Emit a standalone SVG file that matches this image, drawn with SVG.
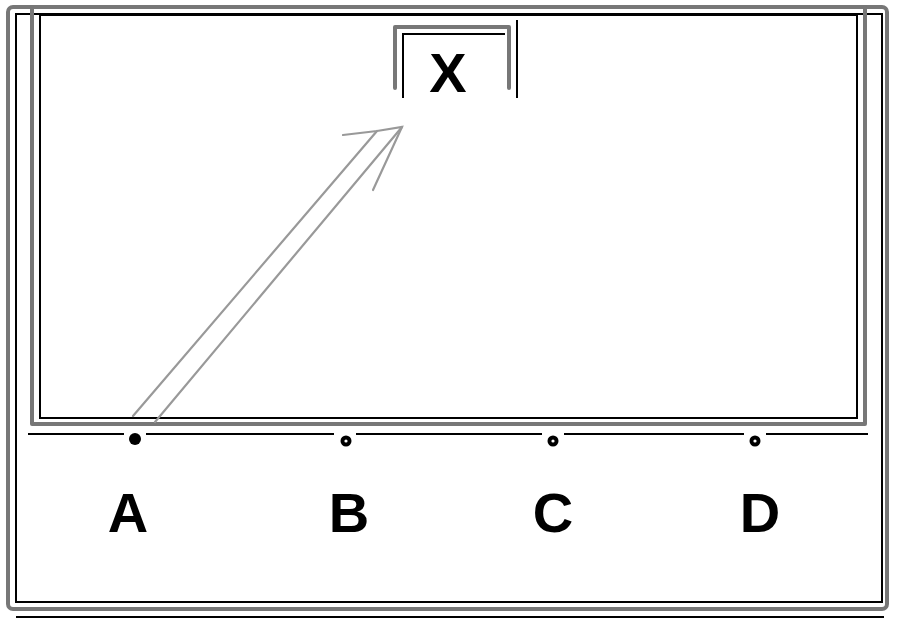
<svg xmlns="http://www.w3.org/2000/svg" width="900" height="620" viewBox="0 0 900 620">
  <style>
    .frame { fill: none; stroke: #777; stroke-width: 4; stroke-linejoin: round; stroke-linecap: round; }
    .thin { fill: none; stroke: #000; stroke-width: 2; }
    .conn { fill: none; stroke: #999; stroke-width: 2.2; stroke-linecap: round; }
    .label { font-family: "Liberation Sans", Arial, sans-serif; font-weight: bold; font-size: 56px; fill: #000; text-anchor: middle; }
    .ring { fill: #000; }
    .hole { fill: #fff; }
  </style>
  <rect width="900" height="620" fill="#fff"/>

  <g id="outer-frame">
    <rect class="frame" x="8" y="7" width="879" height="602" rx="5"/>
    <rect class="thin" x="16" y="14" width="866" height="588"/>
    <line class="thin" x1="16" y1="617" x2="884" y2="617"/>
  </g>

  <g id="panel">
    <path class="frame" d="M32,7 V424 H865 V7"/>
    <path class="thin" d="M40,418 V15 H857 V418 Z"/>
    <path class="thin" d="M28,434 H124 M146,434 H334 M356,434 H542 M564,434 H744 M766,434 H868"/>
  </g>

  <g id="node-X">
    <path class="frame" d="M395,88 V27 H509 V88"/>
    <path class="thin" d="M403,98 V34 H505"/>
    <line class="thin" x1="517" y1="20" x2="517" y2="98"/>
    <text class="label" x="448" y="92">X</text>
  </g>

  <g id="node-A">
    <circle class="ring" cx="135" cy="439" r="6"/>
    <text class="label" x="128" y="532">A</text>
  </g>
  <g id="node-B">
    <circle class="ring" cx="346" cy="441" r="5.5"/>
    <circle class="hole" cx="346" cy="441" r="1.6"/>
    <text class="label" x="349" y="532">B</text>
  </g>
  <g id="node-C">
    <circle class="ring" cx="553" cy="441" r="5.5"/>
    <circle class="hole" cx="553" cy="441" r="1.6"/>
    <text class="label" x="553" y="532">C</text>
  </g>
  <g id="node-D">
    <circle class="ring" cx="755" cy="441" r="5.5"/>
    <circle class="hole" cx="755" cy="441" r="1.6"/>
    <text class="label" x="760" y="532">D</text>
  </g>

  <g id="connectors">
    <line class="conn" x1="133" y1="416" x2="377" y2="131"/>
    <line class="conn" x1="155" y1="422" x2="402" y2="127"/>
    <path class="conn" d="M343,135 L377,131 L402,127 L373,190" stroke="#666"/>
  </g>
</svg>
